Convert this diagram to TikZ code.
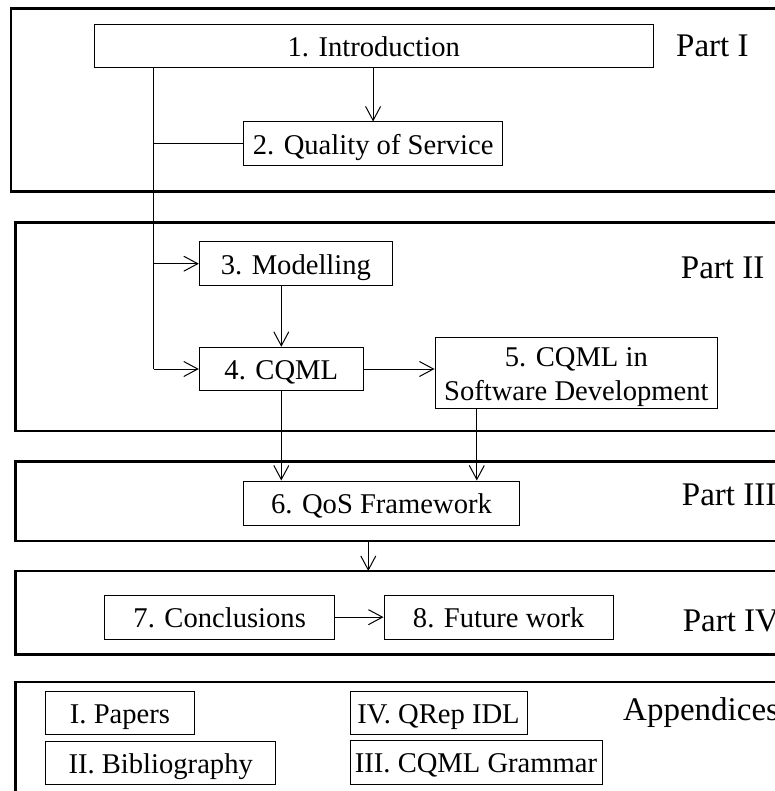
\documentclass[tikz,border=0pt]{standalone}
\usepackage{fontspec}
\setmainfont{Liberation Serif}
\usetikzlibrary{arrows.meta}
\newcommand{\figfont}{\fontsize{28.6pt}{34pt}\selectfont}
\newcommand{\partfont}{\fontsize{33pt}{38pt}\selectfont}
\tikzset{
  partframe/.style={draw, line width=2.7pt, inner sep=0pt, outer sep=0pt},
  chapbox/.style={draw, line width=1pt, inner sep=0pt, align=center,
                  text height=21pt, text depth=0pt, font=\figfont},
  partlabel/.style={anchor=base west, inner sep=0pt, font=\partfont},
  link/.style={line width=1pt},
  arr/.style={line width=1pt, -{Straight Barb[length=14pt,width=15pt]}},
}
\begin{document}
\begin{tikzpicture}[x=1pt, y=-1pt]
\useasboundingbox (0,0) rectangle (774,791);

% part frames (right edges run past the page)
\node[partframe, minimum width=779pt,   minimum height=183pt]   (fI)   at (400.5, 100) {};
\node[partframe, minimum width=774.7pt, minimum height=208.5pt] (fII)  at (402.65, 326.75) {};
\node[partframe, minimum width=774.7pt, minimum height=79.7pt]  (fIII) at (402.65, 501.15) {};
\node[partframe, minimum width=774.7pt, minimum height=83.7pt]  (fIV)  at (402.65, 612.85) {};
\node[partframe, minimum width=774.7pt, minimum height=118pt]   (fApp) at (402.65, 741) {};

% part labels
\node[partlabel] (lI)   at (676, 56.7)   {Part I};
\node[partlabel] (lII)  at (680.7, 278)  {Part II};
\node[partlabel] (lIII) at (681.7, 505.7){Part III};
\node[partlabel] (lIV)  at (682.6, 631)  {Part IV};
\node[partlabel] (lApp) at (623, 720.5)  {Appendices};

% chapters
\node[chapbox, minimum width=559.5pt, minimum height=43.3pt] (intro)     at (373.75, 46.35) {1. Introduction};
\node[chapbox, minimum width=258.8pt, minimum height=43.7pt] (quality)   at (373.1, 143.85) {2. Quality of Service};
\node[chapbox, minimum width=193.2pt, minimum height=44pt]   (modelling) at (295.9, 263.7)  {3. Modelling};
\node[chapbox, minimum width=164pt,   minimum height=43.4pt] (cqml)      at (281.3, 369)    {4. CQML};
\node[chapbox, minimum width=282.7pt, minimum height=71pt, text height=54.4pt] (swdev) at (576.35, 372.8) {5. CQML in\\Software Development};
\node[chapbox, minimum width=276.4pt, minimum height=44pt]   (qos)       at (381.5, 503)    {6. QoS Framework};
\node[chapbox, minimum width=230pt,   minimum height=43.7pt] (concl)     at (219.7, 617.15) {7. Conclusions};
\node[chapbox, minimum width=229.5pt, minimum height=43.7pt] (future)    at (498.75, 617.15){8. Future work};

% appendices
\node[chapbox, minimum width=148.6pt, minimum height=43.4pt] (papers)  at (120, 713)     {I. Papers};
\node[chapbox, minimum width=230pt,   minimum height=43.3pt] (biblio)  at (160.7, 762.65){II. Bibliography};
\node[chapbox, minimum width=177pt,   minimum height=43pt]   (qrep)    at (438.5, 713.2) {IV. QRep IDL};
\node[chapbox, minimum width=252pt,   minimum height=44pt]   (grammar) at (476, 762.3)   {III. CQML Grammar};

% helper positions for connectors
\coordinate (trunk) at (153.7, 0);
\coordinate (drop)  at (368.3, 0);
\coordinate (swfoot) at ([xshift=42.3pt]swdev.south west);

% trunk from the introduction down the left side
\draw[link] (intro.south -| trunk) -- (trunk |- cqml.west);
\draw[link] (trunk |- quality.west) -- (quality.west);
\draw[arr]  (trunk |- modelling.west) -- (modelling.west);
\draw[arr]  (trunk |- cqml.west) -- (cqml.west);

% remaining dependencies
\draw[arr] (intro.south -| quality.north) -- (quality.north);
\draw[arr] (modelling.south -| cqml.north) -- (cqml.north);
\draw[arr] (cqml.east) -- (cqml.east -| swdev.west);
\draw[arr] (cqml.south) -- (cqml.south |- qos.north);
\draw[arr] (swfoot) -- (swfoot |- qos.north);
\draw[arr] (fIII.south -| drop) -- (fIV.north -| drop);
\draw[arr] (concl.east) -- (future.west);
\end{tikzpicture}
\end{document}
